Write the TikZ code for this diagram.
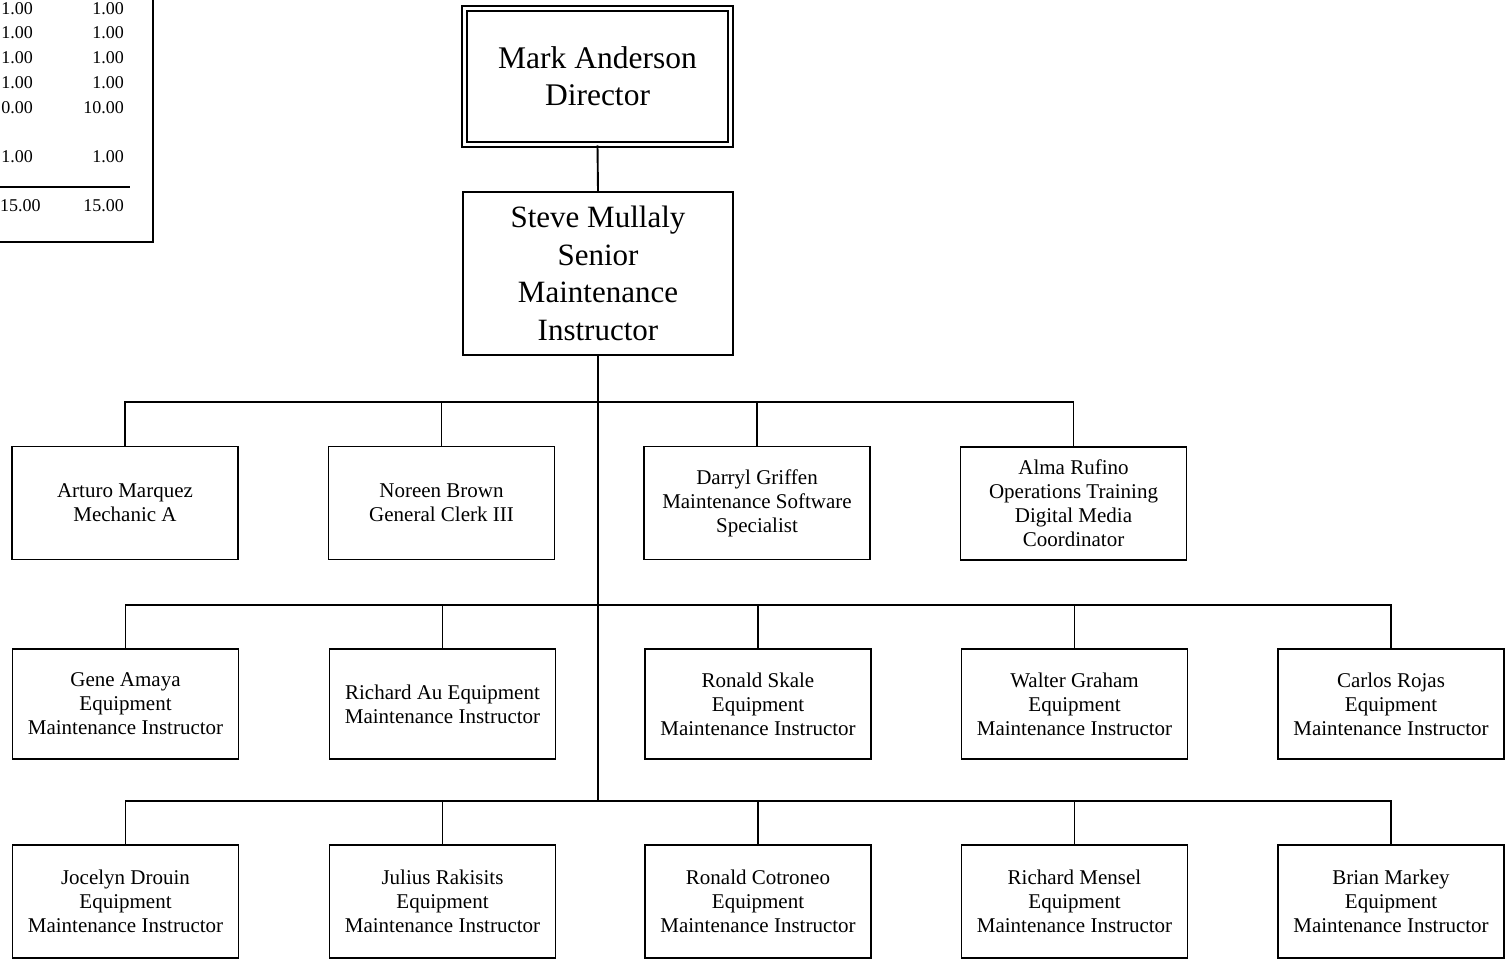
\documentclass[tikz,border=0pt]{standalone}
\usepackage{fontspec}
\setmainfont{Liberation Serif}
\begin{document}
\begin{tikzpicture}[x=1pt,y=-1pt,
  box/.style={draw, line width=1.9pt, minimum width=226pt, minimum height=111pt, inner sep=0pt, align=center, font=\fontsize{21}{24}\selectfont},
  bigbox/.style={draw, line width=1.9pt, inner sep=0pt, align=center},
  conn/.style={line width=1.9pt},
  num/.style={anchor=east, inner sep=0pt, font=\fontsize{18}{22}\selectfont}]
\useasboundingbox (0,0) rectangle (1505,960);

% table fragment (top left)
\begin{scope}
\clip (0,0) rectangle (1505,960);
\draw[conn] (153,-10) -- (153,242) -- (-10,242);
\draw[line width=1.3pt] (-10,187) -- (130,187);
\node[num] (a1) at (33,9) {1.00};
\node[num] (b1) at (124,9) {1.00};
\node[num] (a2) at (33,33) {1.00};
\node[num] (b2) at (124,33) {1.00};
\node[num] (a3) at (33,58) {1.00};
\node[num] (b3) at (124,58) {1.00};
\node[num] (a4) at (33,83) {1.00};
\node[num] (b4) at (124,83) {1.00};
\node[num] (a5) at (33,108) {0.00};
\node[num] (b5) at (124,108) {10.00};
\node[num] (a6) at (33,157) {1.00};
\node[num] (b6) at (124,157) {1.00};
\node[num, anchor=west] (a7) at (0,206) {15.00};
\node[num] (b7) at (124,206) {15.00};
\end{scope}

% top
\node[bigbox, double, double distance=3pt, line width=1.6pt, minimum width=266pt, minimum height=136pt, font=\fontsize{31.5}{37}\selectfont] (dir) at (597.5,76.5) {Mark Anderson\\Director};
\node[bigbox, minimum width=270pt, minimum height=163pt, font=\fontsize{31}{37.5}\selectfont] (smi) at (598,273.5) {Steve Mullaly\\Senior\\Maintenance\\Instructor};

% row 1
\node[box, minimum height=113pt] (am) at (125,503) {Arturo Marquez\\Mechanic A};
\node[box, minimum height=113pt] (nb) at (441.5,503) {Noreen Brown\\General Clerk III};
\node[box, minimum height=113pt] (dg) at (757,503) {Darryl Griffen\\Maintenance Software\\Specialist};
\node[box, minimum height=113pt] (ar) at (1073.5,503.5) {Alma Rufino\\Operations Training\\Digital Media\\Coordinator};

% row 2
\node[box, minimum height=110pt] (ga) at (125.5,704) {Gene Amaya\\Equipment\\Maintenance Instructor};
\node[box, minimum height=110pt] (ra) at (442.5,704) {Richard Au Equipment\\Maintenance Instructor};
\node[box, minimum height=110pt] (rs) at (758,704) {Ronald Skale\\Equipment\\Maintenance Instructor};
\node[box, minimum height=110pt] (wg) at (1074.5,704) {Walter Graham\\Equipment\\Maintenance Instructor};
\node[box, minimum height=110pt] (cr) at (1391,704) {Carlos Rojas\\Equipment\\Maintenance Instructor};

% row 3
\node[box, minimum height=113pt] (jd) at (125.5,901.5) {Jocelyn Drouin\\Equipment\\Maintenance Instructor};
\node[box, minimum height=113pt] (jr) at (442.5,901.5) {Julius Rakisits\\Equipment\\Maintenance Instructor};
\node[box, minimum height=113pt] (rc) at (758,901.5) {Ronald Cotroneo\\Equipment\\Maintenance Instructor};
\node[box, minimum height=113pt] (rm) at (1074.5,901.5) {Richard Mensel\\Equipment\\Maintenance Instructor};
\node[box, minimum height=113pt] (bm) at (1391,901.5) {Brian Markey\\Equipment\\Maintenance Instructor};

% buses
\coordinate (bus1) at (598,402);
\coordinate (bus2) at (598,605);
\coordinate (bus3) at (598,801);

\draw[conn] (dir.south) -- (smi.north);
\draw[conn] (smi.south) -- (bus3);

\draw[conn] (am.north) |- (bus1) -| (ar.north);
\draw[conn] (nb.north) -- (nb.north |- bus1);
\draw[conn] (dg.north) -- (dg.north |- bus1);

\draw[conn] (ga.north) |- (bus2) -| (cr.north);
\draw[conn] (ra.north) -- (ra.north |- bus2);
\draw[conn] (rs.north) -- (rs.north |- bus2);
\draw[conn] (wg.north) -- (wg.north |- bus2);

\draw[conn] (jd.north) |- (bus3) -| (bm.north);
\draw[conn] (jr.north) -- (jr.north |- bus3);
\draw[conn] (rc.north) -- (rc.north |- bus3);
\draw[conn] (rm.north) -- (rm.north |- bus3);
\end{tikzpicture}
\end{document}
